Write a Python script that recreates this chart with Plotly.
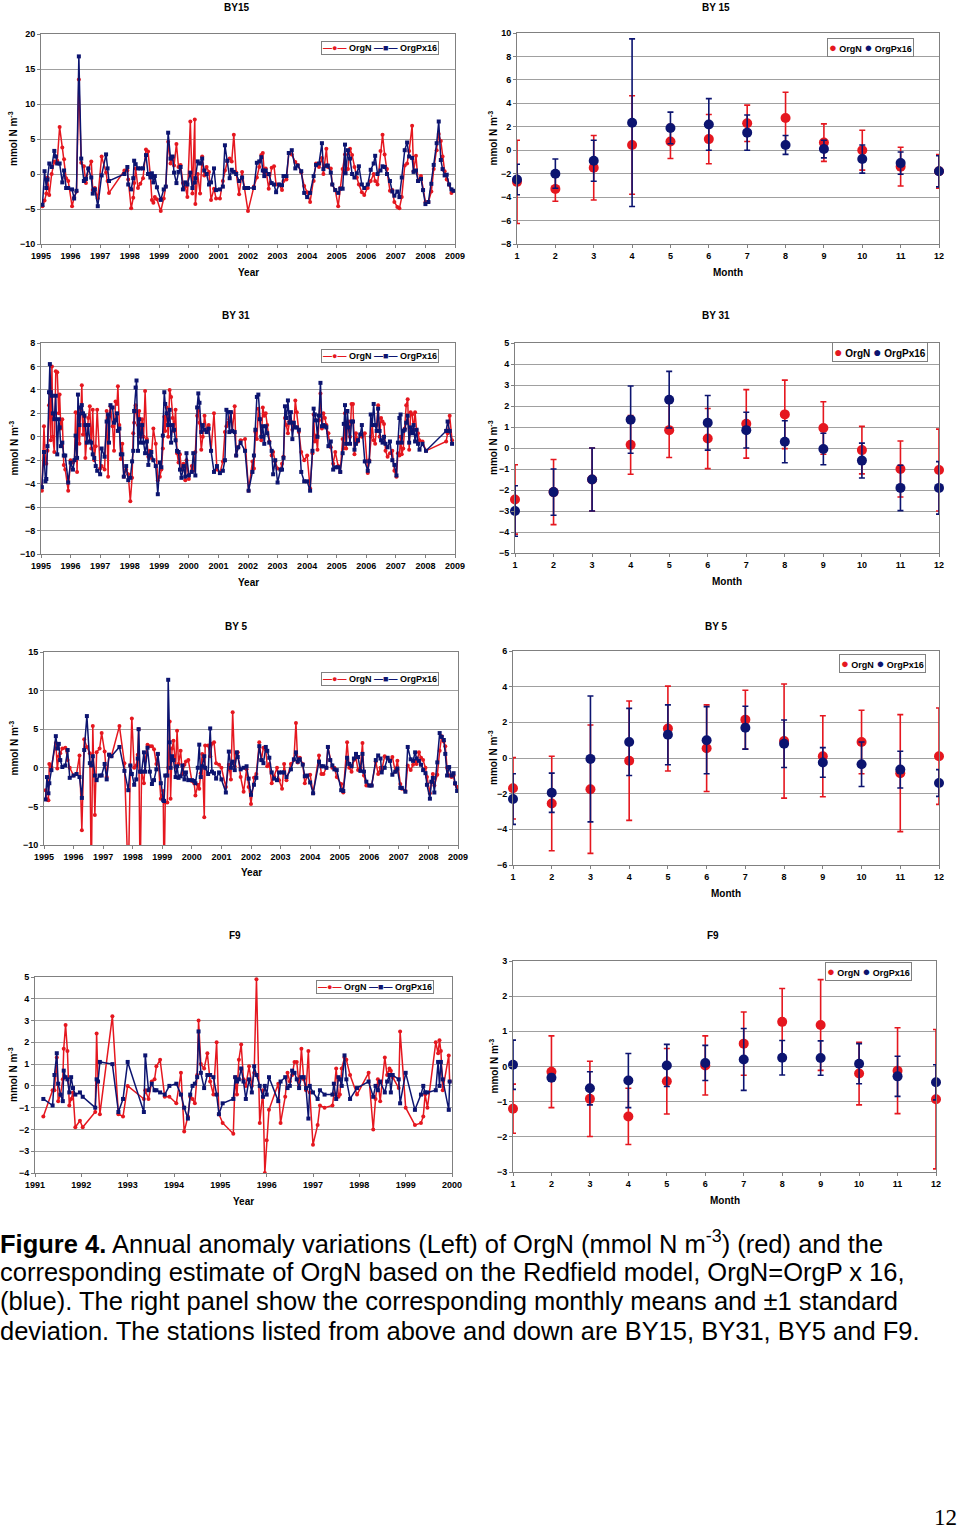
import plotly.graph_objects as go

W, H = 960, 1529
RED = '#e5171f'
BLUE = '#0c1470'
FONT = 'Arial, Liberation Sans, sans-serif'

# ---------------- data: time series (decimal year) ----------------
years_by = [1995, 1996, 1997, 1998, 1999, 2000, 2001, 2002, 2003, 2004, 2005, 2006, 2007, 2008, 2009]
years_f9 = [1991, 1992, 1993, 1994, 1995, 1996, 1997, 1998, 1999, 2000]
months = [1, 2, 3, 4, 5, 6, 7, 8, 9, 10, 11, 12]

by15_t = [1995.05, 1995.12, 1995.18, 1995.22, 1995.28, 1995.36, 1995.45, 1995.50, 1995.55, 1995.63, 1995.72, 1995.78, 1995.85, 1995.92,
          1996.05, 1996.12, 1996.20, 1996.28, 1996.36, 1996.45, 1996.52, 1996.60, 1996.70, 1996.75, 1996.82, 1996.92,
          1997.05, 1997.20, 1997.25, 1997.30, 1997.82, 1997.92, 1997.95,
          1998.05, 1998.12, 1998.15, 1998.20, 1998.28, 1998.36, 1998.45, 1998.55, 1998.62, 1998.70, 1998.75, 1998.80, 1998.85, 1998.92,
          1999.05, 1999.15, 1999.22, 1999.30, 1999.38, 1999.45, 1999.50, 1999.58, 1999.65, 1999.72, 1999.80, 1999.88, 1999.95,
          2000.05, 2000.12, 2000.20, 2000.22, 2000.30, 2000.38, 2000.45, 2000.52, 2000.60, 2000.68, 2000.75, 2000.85, 2000.92,
          2001.05, 2001.15, 2001.22, 2001.30, 2001.38, 2001.45, 2001.52, 2001.60, 2001.70, 2001.80, 2001.88,
          2002.00, 2002.20, 2002.30, 2002.38, 2002.45, 2002.50, 2002.55, 2002.60, 2002.70, 2002.80, 2002.88, 2002.95,
          2003.05, 2003.15, 2003.20, 2003.30, 2003.38, 2003.48, 2003.60, 2003.68, 2003.80, 2003.90,
          2004.00, 2004.10, 2004.22, 2004.30, 2004.40, 2004.50, 2004.55, 2004.65, 2004.70, 2004.80, 2004.85, 2004.95,
          2005.05, 2005.12, 2005.20, 2005.28, 2005.30, 2005.38, 2005.45, 2005.52, 2005.60, 2005.68, 2005.75, 2005.85, 2005.93,
          2006.05, 2006.15, 2006.25, 2006.30, 2006.38, 2006.48, 2006.55, 2006.62, 2006.70, 2006.80, 2006.88, 2006.95,
          2007.05, 2007.12, 2007.20, 2007.30, 2007.38, 2007.45, 2007.55, 2007.60, 2007.68, 2007.75, 2007.85, 2007.92,
          2008.00, 2008.10, 2008.20, 2008.28, 2008.38, 2008.45, 2008.52, 2008.58, 2008.65, 2008.72, 2008.80, 2008.88, 2008.95]
by15_orgn = [-4.6, -3.8, -2.8, -0.5, -3.0, 0.0, 1.8, 1.6, 1.9, 6.7, 3.8, 2.1, -0.6, -1.0,
             -4.6, -3.4, -2.5, 13.5, 1.6, 1.1, -1.3, 0.7, 1.8, -2.3, -2.0, -3.5,
             2.5, 0.2, -1.0, -2.7, 0.5, 0.5, -0.8,
             -4.9, -3.4, -1.3, 0.8, -2.0, -1.4, -0.6, 3.5, 3.2, -0.3, -3.7, -4.1, -3.3, -3.6,
             -5.3, -3.5, -1.8, 4.6, 1.5, 2.4, 1.2, 4.3, 1.0, 1.3, -1.3, -1.8, -3.3,
             7.5, -2.8, 7.8, -4.3, 0.0, -2.8, 2.5, -0.2, 1.0, 0.3, -3.7, -2.1, -3.5,
             -3.5, -1.0, 0.5, 1.8, 2.2, 1.8, 5.6, 0.2, -2.9, 0.3, -2.0,
             -5.3, -1.8, -0.5, 1.0, 2.7, 3.0, 0.2, 0.8, -2.1, 0.9, 1.1, -1.5,
             -1.5, -2.3, -1.0, -0.8, 3.0, 2.8, 1.7, 1.3, 0.2, -1.7,
             -2.6, -4.0, -1.0, 1.5, 1.0, 2.3, 0.0, 3.6, 1.0, 0.8, -1.5, -2.3,
             -4.6, -2.0, 0.7, 2.8, 0.5, 0.7, 3.6, 2.7, 1.0, -0.5, -1.5, -2.6, -3.0,
             -2.0, -1.0, 0.0, -1.0, -1.5, 3.3, 5.6, 2.8, 0.7, -2.4, -2.3, -4.0,
             -4.7, -4.9, -3.3, 1.2, 1.5, 3.3, 6.9, 0.4, 2.6, -1.0, -0.3, -2.3,
             -4.0, -4.0, -2.5, 0.7, 3.4, 5.7, 4.7, 2.5, 0.4, -0.8, -1.5, -2.7, -2.4]
by15_px16 = [-4.4, 0.4, -2.0, -0.8, 1.5, 1.0, 3.3, 2.5, 1.5, 1.5, -1.2, 0.5, -2.0, -2.0,
             -2.2, -3.5, -2.4, 16.8, 2.2, -1.0, -0.7, 0.8, -0.5, -2.8, -2.2, -4.6,
             -0.2, 2.8, 0.8, -1.0, 0.0, 1.0, -1.5,
             -2.2, -0.6, 1.9, 1.4, 0.8, 0.8, 0.8, 2.7, 0.0, -0.5, 0.1, -1.2, -0.3, -1.9,
             -3.7, -2.2, -1.8, 5.9, 2.2, 2.5, 0.2, -1.3, 0.3, 1.0, -2.2, -1.2, -1.5,
             0.2, -2.0, -1.2, -0.6, 1.8, 1.5, 2.2, 0.5, 0.0, -1.5, -1.2, 0.8, -2.3,
             -2.2, -1.8, 4.1, 1.9, -0.6, 0.6, 0.3, 0.0, -1.0, -0.5, -2.0,
             -2.0, -2.0, 1.6, 1.8, 2.4, 0.5, -0.3, 0.5, 0.0, -1.3, -1.5, -2.6,
             -1.5, -1.6, -0.3, -0.3, 3.0, 3.4, 0.8, 1.2, 0.4, -2.7,
             -3.3, -2.7, -0.3, 1.3, 1.5, 4.4, 0.7, 1.2, 1.2, 0.2, -1.5, -2.3,
             -2.7, -2.1, -2.1, 4.2, 0.1, 3.4, 2.2, 0.0, -0.5, 0.1, 1.1, -1.5, -2.0,
             -1.5, 0.6, 1.5, 2.6, 0.0, 0.5, 1.1, 1.0, 0.0, -1.0, -2.5, -3.1,
             -2.5, -3.3, -0.5, 3.4, 4.5, 2.5, 2.3, 0.3, 0.5, -1.0, -0.7, -2.3,
             -4.3, -4.0, -1.4, 1.3, 4.4, 7.5, 2.0, 0.7, -0.2, -0.1, -1.5, -2.2, -2.4]

by31_t = [1995.03, 1995.10, 1995.15, 1995.18, 1995.22, 1995.27, 1995.30, 1995.33, 1995.37, 1995.40, 1995.45, 1995.50, 1995.55, 1995.60, 1995.63, 1995.67, 1995.72, 1995.77, 1995.82, 1995.92,
          1996.00, 1996.08, 1996.13, 1996.17, 1996.22, 1996.25, 1996.30, 1996.35, 1996.38, 1996.42, 1996.47, 1996.50, 1996.55, 1996.60, 1996.65, 1996.70, 1996.75, 1996.80, 1996.85, 1996.90,
          1997.00, 1997.05, 1997.15, 1997.22, 1997.27, 1997.30, 1997.35, 1997.42, 1997.47, 1997.52, 1997.57, 1997.60, 1997.65, 1997.70, 1997.75, 1997.80, 1997.88, 1997.95,
          1998.02, 1998.08, 1998.12, 1998.15, 1998.20, 1998.23, 1998.28, 1998.32, 1998.37, 1998.42, 1998.47, 1998.52, 1998.58, 1998.63, 1998.68, 1998.73, 1998.80, 1998.88, 1998.95,
          1999.02, 1999.07, 1999.12, 1999.17, 1999.20, 1999.25, 1999.30, 1999.35, 1999.40, 1999.45, 1999.50, 1999.55, 1999.60, 1999.65, 1999.70, 1999.75, 1999.82, 1999.88, 1999.92,
          2000.00, 2000.10, 2000.15, 2000.22, 2000.28, 2000.32, 2000.36, 2000.42, 2000.47, 2000.53, 2000.60, 2000.67, 2000.75, 2000.85, 2000.95,
          2001.05, 2001.15, 2001.22, 2001.27, 2001.32, 2001.37, 2001.42, 2001.47, 2001.55, 2001.60, 2001.67, 2001.75, 2001.90,
          2002.02, 2002.15, 2002.20, 2002.25, 2002.30, 2002.35, 2002.40, 2002.45, 2002.50, 2002.55, 2002.60, 2002.65, 2002.72, 2002.80, 2002.85, 2002.92,
          2003.00, 2003.10, 2003.15, 2003.20, 2003.25, 2003.30, 2003.35, 2003.40, 2003.45, 2003.50, 2003.55, 2003.60, 2003.65, 2003.72, 2003.80, 2003.90,
          2004.00, 2004.10, 2004.18, 2004.22, 2004.26, 2004.30, 2004.35, 2004.40, 2004.45, 2004.50, 2004.55, 2004.60, 2004.65, 2004.72, 2004.80, 2004.88, 2004.95,
          2005.05, 2005.12, 2005.20, 2005.24, 2005.28, 2005.32, 2005.36, 2005.40, 2005.45, 2005.50, 2005.55, 2005.60, 2005.65, 2005.72, 2005.80, 2005.85, 2005.95,
          2006.05, 2006.10, 2006.15, 2006.20, 2006.25, 2006.30, 2006.35, 2006.40, 2006.45, 2006.50, 2006.55, 2006.60, 2006.65, 2006.72, 2006.80, 2006.88, 2006.95,
          2007.02, 2007.07, 2007.12, 2007.16, 2007.20, 2007.25, 2007.30, 2007.35, 2007.40, 2007.45, 2007.50, 2007.55, 2007.60, 2007.65, 2007.70, 2007.75, 2007.80, 2007.90,
          2008.02, 2008.70, 2008.75, 2008.82, 2008.90]
by31_orgn = [-4.6, 0.9, -2.0, -2.3, -1.2, 2.7, 3.7, -0.3, 6.0, 0.0, -1.3, 5.6, 5.5, 2.0, 3.6, 0.7, 1.5, -2.4, -2.8, -4.6,
             -2.0, -2.2, -2.0, 2.1, -3.0, 2.0, -0.6, 2.3, 4.4, 0.2, 1.7, -1.8, 0.2, 1.6, 2.6, -1.0, 2.3, -2.0, -0.8, 2.3,
             -2.7, -2.5, -2.8, 2.2, -3.4, 1.7, 2.6, 0.9, -1.2, 3.0, 2.8, 4.3, 1.0, -1.9, -0.6, -3.4, -2.8, -3.2,
             -5.5, -3.5, 0.3, 1.2, 2.7, 2.1, 1.0, 2.2, 0.0, 1.5, 0.0, 3.9, -0.2, -1.7, -1.2, -1.8, 0.7, -0.6, -3.7,
             -3.4, -2.8, -1.0, 1.7, 0.5, 2.5, 0.0, 4.0, 3.4, 1.6, 0.5, 2.3, -1.4, -2.2, -1.5, -2.8, -2.3, -3.7, -2.0,
             -3.6, -2.5, -2.9, -1.3, 1.8, 2.2, 1.2, -1.1, 0.0, 1.8, 0.5, 1.0, -1.2, 2.0, -2.8,
             -3.1, -2.1, 0.4, 0.9, 1.2, 1.5, 2.1, 0.5, 2.6, -1.6, -0.9, -0.3, -0.2,
             -4.6, -2.1, -2.7, 0.4, -0.2, 2.4, 1.5, -0.3, 2.5, 1.8, 2.0, 1.0, -0.4, -1.6, -1.3, -2.1,
             -2.7, -2.8, -2.3, -1.7, 1.6, 1.0, 0.3, 1.3, 1.3, 0.6, 1.0, 3.1, 2.1, 0.4, -1.3, -2.0,
             -1.6, -4.4, -1.4, 1.9, -0.4, 0.1, -1.1, 1.4, 3.7, 0.7, 2.0, 1.6, 1.0, 0.3, -0.9, -2.3, -1.3,
             -2.5, -3.0, -0.2, -1.0, 2.0, -1.0, 1.0, 1.3, 0.0, 2.8, 2.8, -1.5, 0.3, -0.4, 0.2, 0.0, 0.3,
             -3.1, -2.0, 0.0, 1.0, -0.3, -0.6, 1.0, 2.7, 0.0, 1.6, 1.3, 1.1, -1.2, -1.7, -1.4, -1.2, -2.9,
             -3.4, -1.4, -1.6, 0.0, -1.5, -1.0, 0.7, 2.7, 3.2, -1.1, 2.1, 1.9, 0.6, 2.1, 0.6, 0.3, -0.3, -0.4,
             -1.2, -0.4, 0.3, 1.8, -0.3]
by31_px16 = [-4.3, -1.3, -3.8, -3.6, -0.8, 3.8, 6.2, 3.8, 3.5, 2.0, 1.5, 3.5, -1.5, 1.5, 0.8, -0.8, -0.5, -1.6, -1.6, -3.9,
             -2.2, -2.8, -2.0, 0.1, -1.8, 3.6, 1.0, 2.5, 2.7, 2.0, 1.8, 1.0, -0.5, 1.0, -0.4, -0.5, -1.5, -1.8, -2.5, -2.9,
             -3.2, -1.0, -1.7, 1.3, 1.9, -0.5, 2.7, 2.5, 1.2, 1.4, 2.0, 0.5, 0.7, -1.5, -1.5, -3.4, -2.5, -3.7,
             -3.5, -2.1, -1.2, 2.2, 4.2, 4.8, -1.2, 1.5, -0.5, 1.0, -0.5, -1.4, -0.4, -2.4, -1.6, -1.3, -2.0, -2.5, -4.9,
             -2.2, -2.6, 0.1, 3.8, 2.8, 2.0, 1.0, 2.3, -0.5, 1.0, 0.6, -0.3, -1.2, -1.3, -2.8, -3.5, -2.5, -3.4, -1.4,
             -3.3, -3.0, -1.4, -3.3, 2.5, 3.7, 2.9, 0.4, 1.0, 0.6, 0.4, 0.7, -1.2, -3.0, -2.5,
             -3.1, -2.9, -2.0, 2.3, 2.1, 0.4, 2.1, 0.5, 0.4, -1.6, -0.9, -0.5, -1.2,
             -4.6, -3.0, -1.6, 0.6, 3.4, 3.6, 1.5, 0.0, 0.9, -0.6, 0.9, 0.3, -0.5, -1.2, -3.2, -2.0,
             -3.9, -2.8, -2.8, -1.8, 2.6, 1.6, 3.1, 1.2, 2.1, -0.2, 1.2, 0.8, 0.8, 0.6, -3.0, -3.8,
             -3.8, -4.6, -1.2, 2.4, 1.9, 1.4, 0.0, 1.8, 4.6, 0.9, 1.0, 0.9, 0.8, -0.8, -0.4, -2.8, -2.6,
             -2.6, -3.0, -1.4, 1.1, 2.7, -0.6, 2.2, 0.8, -0.6, 1.3, 1.3, -1.1, -0.6, -0.3, 0.2, 1.0, -2.1,
             -2.9, -2.1, 1.9, 1.0, 2.8, 1.0, 0.5, 2.4, 0.5, -0.3, -0.5, 0.0, -0.6, -0.9, -0.4, -2.0, -2.4,
             -3.3, -0.5, 1.6, 1.9, -0.5, 0.5, 0.6, 1.2, 1.8, -0.5, 0.8, 0.3, 1.0, -0.4, 0.6, -0.6, -1.1, -0.6,
             -1.2, 0.5, 1.3, 0.5, -0.6]

by5_t = [1995.05, 1995.10, 1995.15, 1995.18, 1995.25, 1995.40, 1995.45, 1995.50, 1995.55, 1995.62, 1995.72, 1995.80, 1995.87,
         1996.00, 1996.10, 1996.20, 1996.28, 1996.36, 1996.45, 1996.55, 1996.60, 1996.65, 1996.72, 1996.78, 1996.88, 1996.95,
         1997.05, 1997.12, 1997.20, 1997.28, 1997.55, 1997.72, 1997.85, 1997.92, 1997.97,
         1998.05, 1998.12, 1998.17, 1998.20, 1998.25, 1998.30, 1998.38, 1998.42, 1998.50, 1998.58, 1998.65, 1998.72, 1998.80, 1998.85, 1998.95,
         1999.03, 1999.06, 1999.10, 1999.17, 1999.20, 1999.25, 1999.28, 1999.33, 1999.38, 1999.45, 1999.50, 1999.55, 1999.62, 1999.68, 1999.75, 1999.80, 1999.88,
         2000.00, 2000.08, 2000.12, 2000.20, 2000.25, 2000.30, 2000.35, 2000.42, 2000.45, 2000.55, 2000.62, 2000.68, 2000.75, 2000.82, 2000.92,
         2001.00, 2001.15, 2001.25, 2001.32, 2001.38, 2001.45, 2001.52, 2001.55, 2001.65, 2001.75, 2001.85, 2001.92,
         2002.00, 2002.10, 2002.18, 2002.28, 2002.35, 2002.42, 2002.50, 2002.55, 2002.62, 2002.70, 2002.78, 2002.88, 2002.95,
         2003.05, 2003.12, 2003.20, 2003.35, 2003.45, 2003.52, 2003.58, 2003.65, 2003.75, 2003.82, 2003.90,
         2004.00, 2004.10, 2004.30, 2004.38, 2004.45, 2004.55, 2004.60, 2004.68, 2004.75, 2004.82, 2004.90,
         2005.05, 2005.12, 2005.25, 2005.32, 2005.40, 2005.48, 2005.55, 2005.62, 2005.70, 2005.77, 2005.82, 2005.90,
         2006.00, 2006.08, 2006.22, 2006.30, 2006.38, 2006.42, 2006.52, 2006.62, 2006.70, 2006.78, 2006.88, 2006.95,
         2007.05, 2007.10, 2007.22, 2007.30, 2007.40, 2007.48, 2007.55, 2007.60, 2007.68, 2007.75, 2007.82, 2007.90, 2007.95,
         2008.05, 2008.10, 2008.15, 2008.20, 2008.30, 2008.38, 2008.45, 2008.52, 2008.57, 2008.63, 2008.70, 2008.78, 2008.85, 2008.90, 2008.97]
by5_orgn = [-2.9, -4.1, -4.2, 0.5, 0.1, 3.2, -0.1, 1.5, 1.9, 2.5, 2.6, 1.0, 0.0,
            -1.0, -0.8, 1.6, -8.1, 3.7, 2.7, 1.9, -15.0, 5.4, -6.1, 2.0, 2.5, 4.5,
            2.1, -1.2, 1.7, 1.5, 5.4, 0.6, -15.0, 0.3, 6.4,
            0.0, 0.3, 1.7, 5.0, -15.0, -0.5, -2.0, 0.9, 3.0, 2.8, 2.8, 2.4, 0.5, 1.8, -4.0,
            -3.0, -15.0, -4.5, -4.5, 0.0, 6.0, -4.0, 2.5, 3.5, 0.0, 4.8, 0.5, 2.2, -0.8, 0.4, 0.8, 1.0,
            -1.7, -2.0, -3.6, -2.2, -2.7, -0.7, 1.8, -6.4, 2.9, 2.9, 1.5, 3.1, 3.3, 0.6, 0.4,
            0.0, -2.5, 0.4, -1.5, 7.2, 0.2, 1.8, 2.0, -1.2, -3.1, -0.2, -2.5,
            -4.7, -1.3, -0.8, 3.3, 1.0, 2.6, 2.3, 0.2, 0.5, -2.0, -1.1, 0.0, -1.6,
            -2.7, 0.5, -1.6, 0.5, 1.0, 5.8, 0.7, 1.3, 0.5, -2.0, -1.1,
            -0.9, -3.3, 1.6, -0.8, -0.8, 0.0, 2.7, 1.0, 0.0, 0.0, -1.2,
            -2.1, -3.2, 3.3, 0.0, -0.5, 1.0, 1.3, -0.3, 0.0, 3.2, -1.0, -2.3,
            -2.3, -2.3, 0.8, -0.8, 0.0, -0.3, 1.5, 1.2, 0.9, 1.4, -0.5, 0.9,
            -2.1, -2.7, -3.0, 0.3, -0.3, 0.4, 0.9, 0.5, 2.0, 1.3, 1.0, 0.0, -1.2,
            -3.3, -1.9, -0.8, -2.3, -0.9, 2.2, 4.1, 3.4, 2.8, 0.0, -1.0, -1.2, -1.0, -2.1, -2.5]
by5_px16 = [-4.1, -1.2, -3.3, -2.0, -0.3, 4.1, 2.5, 3.1, 1.0, 0.1, 0.3, 2.3, -1.3,
            -1.0, -0.8, -1.2, -3.9, 2.3, 6.7, 0.6, 0.3, 1.5, -1.0, -1.6, -1.0, -1.0,
            0.5, -1.5, 1.7, 1.5, 2.7, -0.4, -2.9, 0.3, -0.8,
            -2.2, -1.5, 1.2, 5.0, -0.5, -0.5, 2.0, -0.5, 2.6, -0.5, -2.1, -1.6, -0.2, 1.8, -2.0,
            -4.2, -4.3, -1.0, -1.0, 11.4, 3.3, 0.0, 1.5, 1.0, -1.2, 0.2, -1.3, -1.1, 0.3, -1.5, -0.6, -1.6,
            -1.6, -1.7, -2.0, 0.0, 3.0, -1.2, 0.2, 1.5, 0.0, -0.8, 5.1, -0.5, -0.7, -1.4, -0.6,
            -1.5, -3.2, 2.1, 0.0, 0.8, -0.3, 2.0, 1.4, -0.2, 0.0, 0.2, -1.4,
            -3.5, -2.2, -1.3, 2.8, 1.0, 0.6, 2.7, 2.2, 1.3, -0.6, -1.4, -1.6, -0.6,
            -0.6, -0.6, -1.2, -0.2, 1.1, 2.0, 0.8, 1.1, 0.4, -1.1, -1.0,
            -1.9, -3.3, 0.8, 0.2, 0.2, 0.0, 2.7, 1.0, 0.3, -0.2, -0.3,
            -2.9, -3.0, 1.3, 0.5, 0.2, 1.2, 1.8, 1.4, -0.4, 1.8, -0.5, -1.8,
            -2.3, -2.3, 1.0, 1.6, 1.2, -0.6, 0.0, 1.3, 0.9, -0.9, -0.5, -0.1,
            -2.6, -2.6, -3.1, 2.7, 1.1, 0.9, 2.0, 1.2, 0.9, 0.4, -0.3, -0.7, -2.2,
            -4.0, -1.8, -1.3, -3.2, 0.7, 4.5, 4.0, 3.6, 1.8, -1.0, 0.1, -1.0, -0.7, -2.0, -3.0]

f9_t = [1991.18, 1991.38, 1991.42, 1991.47, 1991.50, 1991.55, 1991.60, 1991.62, 1991.66, 1991.70, 1991.74, 1991.78, 1991.82, 1991.87, 1991.97,
        1992.03, 1992.30, 1992.33, 1992.36, 1992.40, 1992.67, 1992.80, 1992.90,
        1993.00, 1993.35, 1993.38, 1993.45, 1993.52, 1993.58, 1993.62, 1993.70, 1993.80, 1993.90,
        1994.05, 1994.15, 1994.22, 1994.30, 1994.35, 1994.40, 1994.45, 1994.50, 1994.53, 1994.58, 1994.65, 1994.72, 1994.78, 1994.85, 1994.92, 1994.97,
        1995.05, 1995.28, 1995.32, 1995.36, 1995.40, 1995.45, 1995.50, 1995.55, 1995.62, 1995.68, 1995.73, 1995.78, 1995.85, 1995.92, 1995.96,
        1996.00, 1996.05, 1996.25, 1996.30, 1996.40, 1996.45, 1996.50, 1996.55, 1996.60, 1996.65, 1996.70, 1996.75, 1996.80, 1996.85, 1996.90, 1996.93,
        1997.00, 1997.10, 1997.15, 1997.25, 1997.42, 1997.45, 1997.50, 1997.55, 1997.58, 1997.62, 1997.68, 1997.72, 1997.80, 1997.95,
        1998.20, 1998.30, 1998.35, 1998.40, 1998.45, 1998.55, 1998.60, 1998.65, 1998.68, 1998.72, 1998.85, 1998.88,
        1999.00, 1999.20, 1999.33, 1999.38, 1999.42, 1999.47, 1999.65, 1999.70, 1999.73, 1999.76, 1999.80, 1999.93, 1999.95]
f9_orgn = [-1.4, -0.2, -0.2, 1.3, -0.7, -0.4, 0.3, 1.7, 2.8, 1.6, -0.9, -0.6, -0.3, -1.9, -1.6,
           -1.9, -1.2, 2.4, 0.2, -1.3, 3.2, -1.3, -1.4,
           0.0, -0.6, -0.2, -0.6, 0.2, 0.3, 0.9, 1.2, -0.5, -0.5,
           -0.8, 0.6, -2.1, -1.4, -0.5, -0.6, -0.8, 0.5, 3.0, 1.0, 0.8, 1.5, 0.2, -0.4, 2.0, -1.3,
           -1.7, -2.2, 0.4, -0.4, 1.2, 1.9, 0.3, 0.0, 0.9, 0.0, 0.6, 4.9, -1.7, -0.2, -4.0,
           -2.5, -1.1, 0.1, -1.7, -0.5, 0.6, 0.2, 0.5, 1.1, 1.1, 0.0, 1.7, 0.3, -0.2, 1.6, -0.3,
           -2.7, -1.8, -0.9, -1.0, -0.9, -0.4, 0.8, -0.5, -0.4, 0.8, 1.3, 1.2, 0.5, -0.4,
           0.6, -2.0, -0.6, 0.3, -0.7, 1.3, 0.5, 0.8, 0.7, 0.4, -0.1, 2.5,
           -1.0, -1.8, -1.7, -1.4, -0.4, -1.0, 2.0, 1.5, 2.1, 1.6, -0.2, 1.4, 0.2]
f9_px16 = [-0.6, -0.9, 0.5, 1.5, 0.1, -0.4, -0.7, 0.7, 0.4, 0.3, -0.3, 0.4, -0.1, -0.4, -0.3,
           -0.5, -1.0, 0.3, 0.2, 1.1, 1.0, -1.2, -0.6,
           1.1, -1.2, 1.4, -0.2, 0.1, -0.2, -0.2, -0.3, -0.4, 0.0,
           0.1, -0.4, -1.0, -1.5, -0.4, 0.0, 0.1, 0.4, 2.5, 0.6, -0.1, 0.5, 0.5, 0.4, -0.4, -1.3,
           -0.8, -0.6, 0.4, 0.2, 0.3, 0.8, 0.2, -0.6, 0.3, -0.3, 0.9, 0.5, 0.0, -0.5, 0.0,
           -0.4, 0.4, -0.7, 0.2, 0.4, -0.1, 0.0, 0.7, 0.6, 0.3, -0.1, 0.4, 0.4, -0.1, -1.5, 0.0,
           -0.3, -0.6, -0.2, -0.4, -0.4, 0.1, -0.6, 0.4, 0.3, 0.0, 1.4, 0.3, -0.6, -0.1,
           0.2, -0.5, 0.0, -0.2, 0.2, -0.3, 0.2, 0.5, -0.3, 0.5, 0.3, -0.8,
           0.6, -1.1, -0.4, 0.0, -0.3, -0.3, -0.2, 1.1, 0.0, 1.1, 0.3, -1.1, 0.2]

# ---------------- data: monthly means and standard deviations ----------------
by15_mean_orgn = [-2.7, -3.3, -1.5, 0.45, 0.75, 0.95, 2.3, 2.75, 0.65, 0.0, -1.4, -1.8]
by15_sd_orgn = [3.55, 1.05, 2.75, 4.2, 1.45, 2.1, 1.55, 2.2, 1.6, 1.7, 1.65, 1.43]
by15_mean_px16 = [-2.5, -2.0, -0.9, 2.35, 1.9, 2.2, 1.5, 0.45, 0.1, -0.75, -1.1, -1.8]
by15_sd_px16 = [1.3, 1.25, 1.75, 7.15, 1.35, 2.2, 1.5, 0.8, 0.75, 1.2, 0.95, 1.33]

by31_mean_orgn = [-2.45, -2.1, -1.5, 0.15, 0.85, 0.45, 1.15, 1.6, 0.95, -0.1, -1.0, -1.05]
by31_sd_orgn = [1.65, 1.55, 1.5, 1.4, 1.3, 1.43, 1.63, 1.63, 1.25, 1.13, 1.33, 1.95]
by31_mean_px16 = [-3.0, -2.1, -1.5, 1.35, 2.3, 1.2, 0.85, 0.3, -0.05, -0.6, -1.9, -1.9]
by31_sd_px16 = [1.2, 1.1, 1.5, 1.6, 1.35, 1.3, 0.85, 1.0, 0.75, 0.83, 1.08, 1.25]

by5_mean_orgn = [-1.7, -2.55, -1.75, -0.15, 1.65, 0.55, 2.15, 0.95, 0.1, 0.9, -0.85, 0.1]
by5_sd_orgn = [1.72, 2.65, 3.6, 3.35, 2.38, 2.43, 1.65, 3.2, 2.27, 1.78, 3.28, 2.7]
by5_mean_px16 = [-2.3, -1.95, -0.05, 0.9, 1.3, 1.0, 1.7, 0.8, -0.25, -0.35, -0.65, -1.4]
by5_sd_px16 = [1.42, 1.1, 3.53, 1.88, 1.68, 1.88, 1.2, 1.33, 0.83, 1.25, 1.03, 0.75]

f9_mean_orgn = [-1.2, -0.15, -0.92, -1.42, -0.42, 0.03, 0.65, 1.27, 1.18, -0.2, -0.12, -0.93]
f9_sd_orgn = [0.7, 1.02, 1.07, 0.8, 0.93, 0.84, 0.9, 0.95, 1.29, 0.89, 1.22, 1.98]
f9_mean_px16 = [0.05, -0.32, -0.62, -0.4, 0.03, 0.1, 0.2, 0.25, 0.24, 0.08, -0.28, -0.45]
f9_sd_px16 = [0.7, 0.1, 0.47, 0.77, 0.6, 0.5, 0.88, 0.49, 0.49, 0.57, 0.57, 0.5]

caption_lines = [
    "<b>Figure 4.</b> Annual anomaly variations (Left) of OrgN (mmol N m<sup>-3</sup>) (red) and the",
    "corresponding estimate of OrgN based on the Redfield model, OrgN=OrgP x 16,",
    "(blue). The right panel show the corresponding monthly means and \u00b11 standard",
    "deviation. The stations listed from above and down are BY15, BY31, BY5 and F9.",
]

# ---------------- layout helpers ----------------
def fx(v):
    return v / W


def fy(v):
    return 1 - v / H


fig = go.Figure()
layout = dict(width=W, height=H, margin=dict(l=0, r=0, t=0, b=0, pad=0, autoexpand=False),
              paper_bgcolor='white', plot_bgcolor='white', showlegend=False,
              annotations=[])

TICKFONT = dict(size=9, family=FONT, color='black', weight='bold')


def ann(text, x, y, size=10, bold=True, angle=0, xanchor='center', family=FONT, **kw):
    d = dict(text=text, x=fx(x), y=fy(y), xref='paper', yref='paper', showarrow=False,
             xanchor=xanchor, yanchor='middle', textangle=angle,
             font=dict(size=size, family=family, color='black', weight='bold' if bold else 'normal'))
    d.update(kw)
    layout['annotations'].append(d)


def legend_box(right, cy, kind, size=9):
    if kind == 'line':
        text = (f"<span style='color:{RED}'>\u2014\u25cf\u2014</span> OrgN "
                f"<span style='color:{BLUE}'>\u2014\u25a0\u2014</span> OrgPx16")
    else:
        dot = int(round(size * 1.45))
        text = (f"<span style='color:{RED};font-size:{dot}px'>\u25cf</span> OrgN "
                f"<span style='color:{BLUE};font-size:{dot}px'>\u25cf</span> OrgPx16")
    ann(text, right, cy, size=size, xanchor='right', bordercolor='#808080', borderwidth=1,
        borderpad=1, bgcolor='white')


def axes(i, box, xr, xticks, yr, dy):
    x0, y0, x1, y1 = box
    xk = 'xaxis' if i == 1 else f'xaxis{i}'
    yk = 'yaxis' if i == 1 else f'yaxis{i}'
    layout[xk] = dict(domain=[fx(x0), fx(x1)], anchor=f'y{i}', range=xr, tickvals=xticks,
                      showgrid=False, zeroline=False, showline=True, mirror=True,
                      linecolor='#808080', linewidth=1, ticks='outside', ticklen=3,
                      tickcolor='#808080', tickfont=TICKFONT, automargin=False)
    layout[yk] = dict(domain=[fy(y1), fy(y0)], anchor=f'x{i}', range=yr, dtick=dy, tick0=0,
                      showgrid=True, gridcolor='#a0a0a0', gridwidth=1, zeroline=False,
                      showline=True, mirror=True, linecolor='#808080', linewidth=1,
                      ticks='outside', ticklen=3, tickcolor='#808080', tickfont=TICKFONT,
                      automargin=False)


def series_panel(i, box, t, orgn, px16, xr, xticks, yr, dy, title, title_xy, leg):
    axes(i, box, xr, xticks, yr, dy)
    xa = 'x' if i == 1 else f'x{i}'
    ya = 'y' if i == 1 else f'y{i}'
    fig.add_trace(go.Scatter(x=t, y=orgn, name='OrgN', mode='lines+markers',
                             line=dict(color=RED, width=1.5), marker=dict(symbol='circle', size=4, color=RED),
                             xaxis=xa, yaxis=ya))
    fig.add_trace(go.Scatter(x=t, y=px16, name='OrgPx16', mode='lines+markers',
                             line=dict(color=BLUE, width=1.5), marker=dict(symbol='square', size=4, color=BLUE),
                             xaxis=xa, yaxis=ya))
    x0, y0, x1, y1 = box
    ann(title, *title_xy)
    ann('Year', (x0 + x1) / 2, y1 + 28)
    ann('mmol N m<sup>-3</sup>', 13, (y0 + y1) / 2, angle=-90)
    legend_box(*leg, kind='line')


def month_panel(i, box, mo, mso, mp, msp, yr, dy, title, title_xy, leg, legsize=9):
    axes(i, box, [1, 12], months, yr, dy)
    xa = f'x{i}'
    ya = f'y{i}'
    fig.add_trace(go.Scatter(x=months, y=mo, name='OrgN', mode='markers', cliponaxis=False,
                             marker=dict(symbol='circle', size=10, color=RED),
                             error_y=dict(type='data', array=mso, color=RED, thickness=1.6, width=3),
                             xaxis=xa, yaxis=ya))
    fig.add_trace(go.Scatter(x=months, y=mp, name='OrgPx16', mode='markers', cliponaxis=False,
                             marker=dict(symbol='circle', size=10, color=BLUE),
                             error_y=dict(type='data', array=msp, color=BLUE, thickness=1.6, width=3),
                             xaxis=xa, yaxis=ya))
    x0, y0, x1, y1 = box
    ann(title, *title_xy)
    ann('Month', (x0 + x1) / 2, y1 + 28)
    ann('mmol N m<sup>-3</sup>', 493, (y0 + y1) / 2, angle=-90)
    legend_box(*leg, kind='dot', size=legsize)


series_panel(1, (41, 34, 455, 244), by15_t, by15_orgn, by15_px16, [1995, 2009], years_by,
             [-10, 20], 5, 'BY15', (236, 7), (439, 47.5))
month_panel(2, (517, 33, 939, 244), by15_mean_orgn, by15_sd_orgn, by15_mean_px16, by15_sd_px16,
            [-8, 10], 2, 'BY 15', (716, 7), (914, 47.5))
series_panel(3, (41, 343, 455, 554), by31_t, by31_orgn, by31_px16, [1995, 2009], years_by,
             [-10, 8], 2, 'BY 31', (236, 316), (439, 355.5))
month_panel(4, (515, 343, 939, 553), by31_mean_orgn, by31_sd_orgn, by31_mean_px16, by31_sd_px16,
            [-5, 5], 1, 'BY 31', (716, 316), (928, 352), legsize=10)
series_panel(5, (44, 652, 458, 845), by5_t, by5_orgn, by5_px16, [1995, 2009], years_by,
             [-10, 15], 5, 'BY 5', (236, 626), (439, 679))
month_panel(6, (513, 651, 939, 865), by5_mean_orgn, by5_sd_orgn, by5_mean_px16, by5_sd_px16,
            [-6, 6], 2, 'BY 5', (716, 626), (926, 664))
series_panel(7, (35, 977, 452, 1173), f9_t, f9_orgn, f9_px16, [1991, 2000], years_f9,
             [-4, 5], 1, 'F9', (235, 935), (434, 987.5))
month_panel(8, (513, 961, 936, 1172), f9_mean_orgn, f9_sd_orgn, f9_mean_px16, f9_sd_px16,
            [-3, 3], 1, 'F9', (713, 935), (912, 971.5))

# caption
for k, line in enumerate(caption_lines):
    ann(line, -2, 1242 + k * 29.6, size=25.5, bold=False, xanchor='left')

# page number
ann('12', 945, 1517, size=23, bold=False,
    family='Liberation Serif, Times New Roman, serif')

fig.update_layout(**layout)
fig.write_html('out.html', config={'displayModeBar': False},
               post_script="document.body.style.margin='0';")
